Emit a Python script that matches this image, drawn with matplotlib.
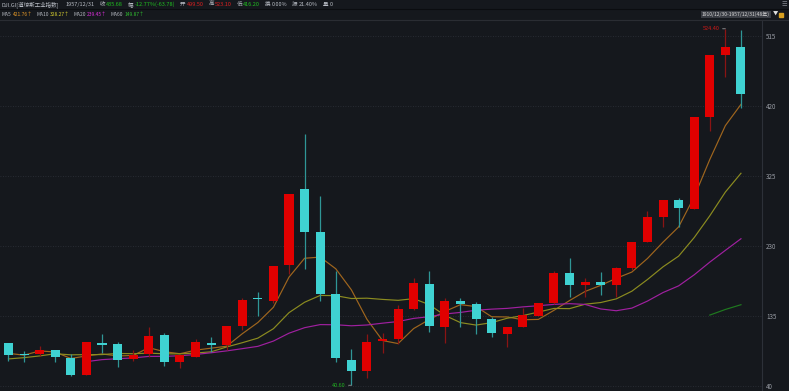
import numpy as np
import pandas as pd
import matplotlib
matplotlib.use("Agg")
import matplotlib.pyplot as plt
from matplotlib.lines import Line2D
from matplotlib.patches import Rectangle

plt.rcParams['font.family'] = ['Noto Sans CJK SC', 'DejaVu Sans']

# yearly candles 1910 .. 1957
years = list(range(1910, 1958))
opens = [98.3, 82.2, 82.6, 88.0, 78.0, 54.5, 98.0, 96.2, 76.0, 82.6,
         108.4, 72.6, 78.5, 98.4, 95.2, 121.0, 158.5, 155.0, 203.4, 307.0,
         248.2, 164.5, 74.9, 60.0, 100.4, 103.4, 143.7, 178.0, 120.0, 155.0,
         150.5, 130.5, 110.2, 119.3, 135.0, 151.8, 192.5, 176.3, 181.2, 176.3,
         200.0, 235.0, 268.6, 291.6, 280.3, 404.3, 488.4, 499.50]
highs = [98.4, 87.5, 93.9, 88.6, 83.4, 99.6, 110.2, 99.3, 89.1, 120.0,
         111.0, 81.5, 103.4, 105.7, 120.5, 159.4, 166.6, 202.4, 300.0, 381.2,
         297.3, 196.0, 89.9, 110.5, 111.9, 149.4, 186.4, 195.6, 158.9, 158.6,
         154.0, 133.6, 119.7, 145.0, 152.5, 196.0, 213.0, 186.6, 194.7, 200.5,
         235.5, 277.5, 292.0, 295.0, 404.4, 488.8, 524.40, 523.10]
lows = [73.6, 72.6, 80.2, 72.1, 53.2, 54.2, 85.0, 65.8, 73.4, 79.2,
        66.7, 63.6, 78.6, 85.8, 88.3, 115.0, 135.2, 152.7, 191.3, 198.7,
        155.0, 72.0, 40.60, 50.2, 84.6, 96.0, 143.1, 112.5, 97.5, 120.0,
        110.0, 105.7, 92.9, 119.3, 134.2, 151.4, 160.8, 160.8, 163.0, 160.8,
        196.8, 235.0, 255.0, 255.0, 279.9, 386.0, 458.6, 416.20]
closes = [81.36, 81.68, 87.87, 78.78, 54.58, 99.15, 95.00, 74.38, 82.20, 107.23,
          71.95, 81.10, 98.73, 95.52, 120.51, 156.66, 157.20, 202.40, 300.00, 248.48,
          164.58, 77.90, 59.93, 99.90, 104.04, 144.13, 179.90, 120.85, 154.76, 150.24,
          131.13, 110.96, 119.40, 135.89, 152.32, 192.91, 177.20, 181.16, 177.30, 200.13,
          235.41, 269.23, 291.90, 280.90, 404.39, 488.40, 499.47, 435.68]
# closes before the visible range (1896 .. 1909), only used to seed the averages
prior_closes = [40.45, 49.41, 60.52, 66.08, 70.71, 64.56, 64.29, 49.11, 69.61,
                96.20, 94.35, 58.75, 86.15, 99.05]

yticks = [40, 135, 230, 325, 420, 515]

BG = '#15181d'
UP = '#e00000'
DOWN = '#3fd2d2'
UP_WICK = '#8a1414'
DOWN_WICK = '#2f9696'
ma_specs = [(5, '#a0661e'), (10, '#8c8c20'), (20, '#a020a0'), (60, '#1f7a1f')]

W, H = 789, 391
fig = plt.figure(figsize=(W / 100, H / 100), dpi=100, facecolor=BG)


def fx(x):
    return x / W


def fy(y):
    return 1 - y / H


ax = fig.add_axes([0, 0, 762 / W, 371 / H])
ax.set_facecolor(BG)

n = len(years)
idx = np.arange(n)

# moving averages on the full close history
all_closes = pd.Series(prior_closes + closes)
for period, col in ma_specs:
    ma = all_closes.rolling(period).mean().values[len(prior_closes):]
    ax.plot(idx, ma, color=col, lw=0.85, zorder=2)

for i in range(n):
    o, h, l, c = opens[i], highs[i], lows[i], closes[i]
    up = c >= o
    ax.vlines(i, l, h, color=UP_WICK if up else DOWN_WICK, lw=0.9, zorder=3)
    body = max(abs(c - o), 1.6)
    ax.bar(i, body, bottom=min(o, c), width=0.58,
           color=UP if up else DOWN, zorder=4, linewidth=0)

ax.set_xlim(-0.545, 48.35)
ax.set_ylim(32.8, 536.3)
ax.set_xticks([])
ax.set_yticks(yticks)
ax.yaxis.tick_right()
ax.tick_params(axis='y', length=0, pad=3, labelsize=4.5, labelcolor='#9a9ea6')
ax.grid(axis='y', linestyle=(0, (1, 2)), color='#2e323a', lw=0.6)
for s in ['top', 'left', 'bottom']:
    ax.spines[s].set_visible(False)
ax.spines['right'].set_color('#2c3038')
ax.spines['right'].set_linewidth(0.8)

# extreme labels
imax = int(np.argmax(highs))
imin = int(np.argmin(lows))
ax.annotate(f"{highs[imax]:.2f}", xy=(imax, highs[imax]), xytext=(-4, 0),
            textcoords='offset points', ha='right', va='center', fontsize=4,
            color='#d01818',
            arrowprops=dict(arrowstyle='-', color='#9a9a9a', lw=0.6))
ax.annotate(f"{lows[imin]:.2f}", xy=(imin, lows[imin]), xytext=(-4, 0),
            textcoords='offset points', ha='right', va='center', fontsize=4,
            color='#20b020',
            arrowprops=dict(arrowstyle='-', color='#9a9a9a', lw=0.6))

# header separators
fig.add_artist(Line2D([0, 1], [fy(8.5), fy(8.5)], color='#0b0d10', lw=0.8))
fig.add_artist(Line2D([0, 1], [fy(19.5), fy(19.5)], color='#2a2d33', lw=0.8))

GRAY = '#b8bcc4'
GREEN = '#20c020'
RED = '#e02020'
renderer = fig.canvas.get_renderer()


def text_row(items, y, size, x0=2):
    # lay pieces left to right, gap given in pixels before each piece
    x = x0
    for gap, t, col in items:
        x += gap
        txt = fig.text(fx(x), fy(y), t, color=col, fontsize=size,
                       va='center', ha='left')
        x += txt.get_window_extent(renderer).width


row1 = [
    (0, "DJI.GI[道琼斯工业指数]", GRAY),
    (6, "1957/12/31", GRAY),
    (5, "收", GRAY), (1, "435.68", GREEN),
    (5, "幅", GRAY), (1, "-12.77%(-63.78)", GREEN),
    (5, "开", GRAY), (1, "499.50", RED),
    (5, "高", GRAY), (1, "523.10", RED),
    (5, "低", GRAY), (1, "416.20", GREEN),
    (5, "换", GRAY), (1, "0.00%", GRAY),
    (5, "振", GRAY), (1, "21.40%", GRAY),
    (5, "量", GRAY), (1, "0", GRAY),
]
text_row(row1, 4.3, 4)

row2 = [
    (0, "MA5", GRAY), (1.5, "421.76↑", '#e89a28'),
    (3, "MA10", GRAY), (1.5, "328.27↑", '#d8d030'),
    (3, "MA20", GRAY), (1.5, "239.45↑", '#e030e0'),
    (3, "MA60", GRAY), (1.5, "149.87↑", '#30c030'),
]
text_row(row2, 14.3, 3.5)

# range label at top right
fig.text(fx(702), fy(14.3), "1910/12/30-1957/12/31(48年)", color='#d8d8d8',
         fontsize=3.6, va='center', ha='left',
         bbox=dict(boxstyle='square,pad=0.2', fc='#3a3d44', ec='none'))
fig.text(fx(775.5), fy(14.3), "▼", color='#e0e0e0', fontsize=3.8,
         va='center', ha='center')
fig.add_artist(Rectangle((fx(779), fy(17)), 4 / W, 4 / H, color='#d8a020',
                         transform=fig.transFigure))
fig.text(fx(784), fy(3.8), "☰", color='#8a8e96', fontsize=4.5,
         va='center', ha='center')

fig.savefig("out.png", dpi=100, facecolor=BG)
